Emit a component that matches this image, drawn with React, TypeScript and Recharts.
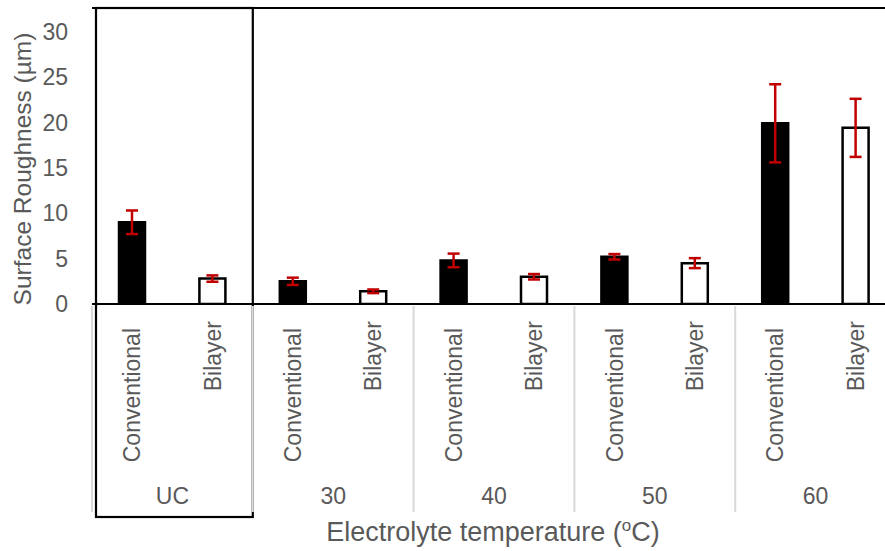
import React from "react";
import { BarChart, Bar, XAxis, YAxis, ErrorBar, Cell, ReferenceLine } from "recharts";

const groups = ["UC", "30", "40", "50", "60"];
const types = ["Conventional", "Bilayer"];
const conventional = [9.0, 2.5, 4.8, 5.2, 19.9];
const conventionalErr = [1.3, 0.4, 0.75, 0.3, 4.3];
const bilayer = [2.8, 1.4, 3.0, 4.5, 19.4];
const bilayerErr = [0.35, 0.2, 0.3, 0.55, 3.2];
const yTicks = [0, 5, 10, 15, 20, 25, 30];
const Y_MAX = 32.6;

const data = groups.flatMap((g, i) => [
  { key: `${g}|${types[0]}`, group: g, type: types[0], value: conventional[i], err: conventionalErr[i] },
  { key: `${g}|${types[1]}`, group: g, type: types[1], value: bilayer[i], err: bilayerErr[i] },
]);

const FONT = "'Liberation Sans', Arial, sans-serif";
const GRAY = "#595959";
const CHART_W = 900;
const CHART_H = 551;
const M_TOP = 8;
const Y_W = 92;
const X_H = 247;
const PLOT_BOTTOM = CHART_H - X_H;
const PLOT_W = CHART_W - 4 - Y_W;
const BAND = PLOT_W / data.length;

const CategoryTick = (props: any) => {
  const { x, payload } = props;
  const idx = data.findIndex((d) => d.key === payload.value);
  if (idx < 0) return null;
  const d = data[idx];
  const half = typeof payload.offset === "number" && payload.offset > 0 ? payload.offset : BAND / 2;
  const isFirst = idx % 2 === 0;
  const labelEnd = PLOT_BOTTOM + (isFirst ? 24 : 17);
  const groupLeft = isFirst ? x - half : x - 3 * half;
  const groupCenter = groupLeft + 2 * half;
  const groupRight = groupLeft + 4 * half;
  return (
    <g>
      <text
        x={x}
        y={labelEnd}
        transform={`rotate(-90, ${x}, ${labelEnd})`}
        textAnchor="end"
        dy="0.35em"
        fill={GRAY}
        fontSize={23}
        fontFamily={FONT}
      >
        {d.type}
      </text>
      {isFirst && (
        <g>
          <line x1={groupLeft} x2={groupLeft} y1={PLOT_BOTTOM + 2} y2={512} stroke="#d9d9d9" strokeWidth={2} />
          <text x={groupCenter} y={504} textAnchor="middle" fill={GRAY} fontSize={23} fontFamily={FONT}>
            {d.group}
          </text>
        </g>
      )}
      {idx === 0 && (
        <rect
          x={groupLeft + 4}
          y={M_TOP}
          width={groupRight - groupLeft - 4}
          height={517 - M_TOP}
          fill="none"
          stroke="#000"
          strokeWidth={2.2}
        />
      )}
    </g>
  );
};

const YTitle = (props: any) => {
  const vb = props.viewBox || { x: 0, y: M_TOP, width: Y_W, height: PLOT_BOTTOM - M_TOP };
  const cx = vb.x + 22;
  const cy = vb.y + vb.height / 2 + 13;
  return (
    <text
      x={cx}
      y={cy}
      transform={`rotate(-90, ${cx}, ${cy})`}
      textAnchor="middle"
      dy="0.35em"
      fill={GRAY}
      fontSize={24.5}
      fontFamily={FONT}
    >
      Surface Roughness (µm)
    </text>
  );
};

const XTitle = (props: any) => {
  const vb = props.viewBox || { x: Y_W, y: PLOT_BOTTOM, width: PLOT_W, height: X_H };
  const cx = vb.x + vb.width / 2 - 1;
  return (
    <text x={cx} y={541} textAnchor="middle" fill={GRAY} fontSize={27} fontFamily={FONT}>
      Electrolyte temperature (
      <tspan fontSize={17} dy={-10}>o</tspan>
      <tspan dy={10}>C)</tspan>
    </text>
  );
};

export default function App() {
  return (
    <div style={{ position: "absolute", left: 0, top: 0, width: 885, height: 551, overflow: "hidden", background: "#fff" }}>
      <BarChart
        width={CHART_W}
        height={CHART_H}
        data={data}
        margin={{ top: M_TOP, right: 4, left: 0, bottom: 0 }}
      >
        <YAxis
          width={Y_W}
          domain={[0, Y_MAX]}
          ticks={yTicks}
          allowDataOverflow
          axisLine={false}
          tickLine={false}
          tickSize={0}
          tickMargin={24}
          tick={{ fill: GRAY, fontSize: 23, fontFamily: FONT }}
          label={<YTitle />}
        />
        <XAxis
          dataKey="key"
          height={X_H}
          interval={0}
          axisLine={{ stroke: "#000", strokeWidth: 2 }}
          tickLine={false}
          tick={<CategoryTick />}
          label={<XTitle />}
        />
        <ReferenceLine y={Y_MAX} stroke="#000" strokeWidth={2} />
        <Bar dataKey="value" barSize={26} isAnimationActive={false}>
          {data.map((d) => (
            <Cell
              key={d.key}
              fill={d.type === "Conventional" ? "#000" : "#fff"}
              stroke="#000"
              strokeWidth={2.5}
            />
          ))}
          <ErrorBar dataKey="err" width={6} strokeWidth={2.5} stroke="#C00000" direction="y" />
        </Bar>
      </BarChart>
    </div>
  );
}
